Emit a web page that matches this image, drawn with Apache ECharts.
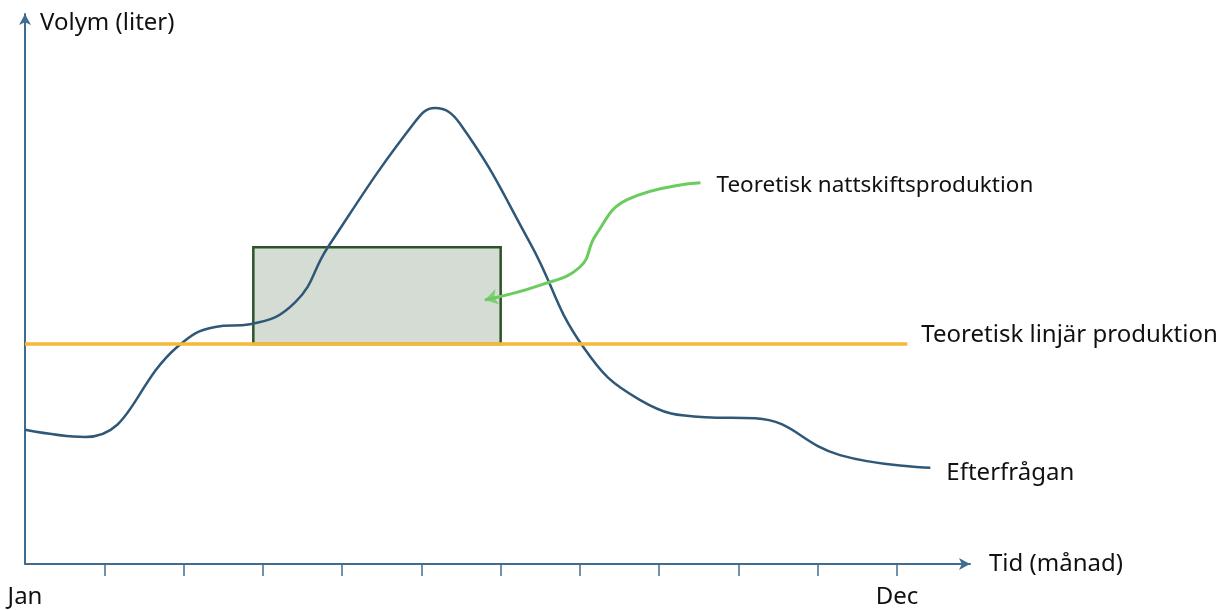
<!DOCTYPE html>
<html>
<head>
<meta charset="utf-8">
<script src="https://cdn.jsdelivr.net/npm/echarts@6/dist/echarts.min.js"></script>
<style>html,body{margin:0;padding:0;background:#fff}#c{width:1232px;height:610px}</style>
</head>
<body>
<div id="c"></div>
<script>
// ---- data (x in months from Jan = 0, y in arbitrary volume units) ----
const demandX = [0, 0.76, 1.93, 2.40, 2.84, 3.41, 3.82, 4.92, 5.17, 5.49, 6.37, 7.04, 7.76, 8.58, 9.21, 10.28, 11.42];
const demandY = [24.4, 23.1, 39.6, 43.1, 43.6, 47.6, 57.6, 80.4, 82.9, 80.0, 58.4, 39.5, 29.8, 26.7, 26.5, 19.8, 17.5];
const linearX = [0, 11.13];
const linearY = [40, 40];
const nightShift = [2.88, 6.0, 40, 57.6]; // xStart, xEnd, yBottom, yTop
const pointerX = [5.80, 6.50, 7.00, 7.20, 7.59, 8.52];
const pointerY = [48.0, 50.7, 54.0, 59.8, 66.2, 69.3];
const tickValues = [1, 2, 3, 4, 5, 6, 7, 8, 9, 10, 11];
const tickLabels = {0: 'Jan', 11: 'Dec'};
const names = {
  demand: 'Efterfrågan',
  linear: 'Teoretisk linjär produktion',
  night: 'Teoretisk nattskiftsproduktion',
  xName: 'Tid (månad)',
  yName: 'Volym (liter)'
};

const FONT = 'Noto Sans';
const FS = 24;
const AXIS = '#3F6D92';
const zip = (a, b) => a.map((v, i) => [v, b[i]]);

const chart = echarts.init(document.getElementById('c'));
chart.setOption({
  animation: false,
  grid: {left: 25, right: 262, top: 14, bottom: 46},
  xAxis: {
    type: 'value', min: 0, max: 11.92,
    name: names.xName, nameLocation: 'end', nameGap: 19,
    nameTextStyle: {fontFamily: FONT, fontSize: FS, color: '#111', align: 'left', verticalAlign: 'middle'},
    axisLine: {show: true, lineStyle: {color: AXIS, width: 2}, symbol: ['none', 'arrow'], symbolSize: [9, 11]},
    axisTick: {show: true, length: 12, inside: false, lineStyle: {color: AXIS, width: 1.5}, customValues: tickValues},
    axisLabel: {show: true, margin: 21, fontFamily: FONT, fontSize: FS, color: '#111',
      customValues: [0, 11], formatter: v => tickLabels[v] || ''},
    splitLine: {show: false}
  },
  yAxis: {
    type: 'value', min: 0, max: 100,
    name: names.yName, nameLocation: 'end', nameGap: -9,
    nameTextStyle: {fontFamily: FONT, fontSize: FS, color: '#111', align: 'left', verticalAlign: 'middle', padding: [0, 0, 0, 15]},
    axisLine: {show: true, lineStyle: {color: AXIS, width: 2}, symbol: ['none', 'arrow'], symbolSize: [9, 11]},
    axisTick: {show: false}, axisLabel: {show: false}, splitLine: {show: false}
  },
  series: [
    {
      type: 'custom', name: names.night, z: 1,
      data: [nightShift],
      renderItem: (params, api) => {
        const p0 = api.coord([api.value(0), api.value(3)]);
        const p1 = api.coord([api.value(1), api.value(2)]);
        return {type: 'rect', shape: {x: p0[0], y: p0[1], width: p1[0] - p0[0], height: p1[1] - p0[1]},
          style: {fill: '#D4DCD4', stroke: '#2C5428', lineWidth: 2.5}};
      }
    },
    {
      type: 'line', name: names.demand, z: 3, data: zip(demandX, demandY),
      smooth: 0.45, showSymbol: false, lineStyle: {color: '#2F5878', width: 2.5},
      endLabel: {show: true, formatter: names.demand, fontFamily: FONT, fontSize: FS, color: '#111', offset: [8, 5]}
    },
    {
      type: 'line', name: names.linear, z: 4, data: zip(linearX, linearY),
      showSymbol: false, lineStyle: {color: '#F4B937', width: 3.5},
      endLabel: {show: true, formatter: names.linear, fontFamily: FONT, fontSize: FS, color: '#111', offset: [6, -9]}
    },
    {
      type: 'line', name: names.night + ' pil', z: 5, data: zip(pointerX, pointerY),
      smooth: 0.45, showSymbol: false, lineStyle: {color: '#6CCB5E', width: 3},
      endLabel: {show: true, formatter: names.night, fontFamily: FONT, fontSize: 22.5, color: '#111', offset: [8, 3]}
    },
    {
      type: 'scatter', z: 6, data: [[pointerX[0], pointerY[0]]],
      symbol: 'arrow', symbolSize: [12, 13], symbolRotate: 104,
      itemStyle: {color: '#6CCB5E'}
    }
  ]
});
</script>
</body>
</html>
